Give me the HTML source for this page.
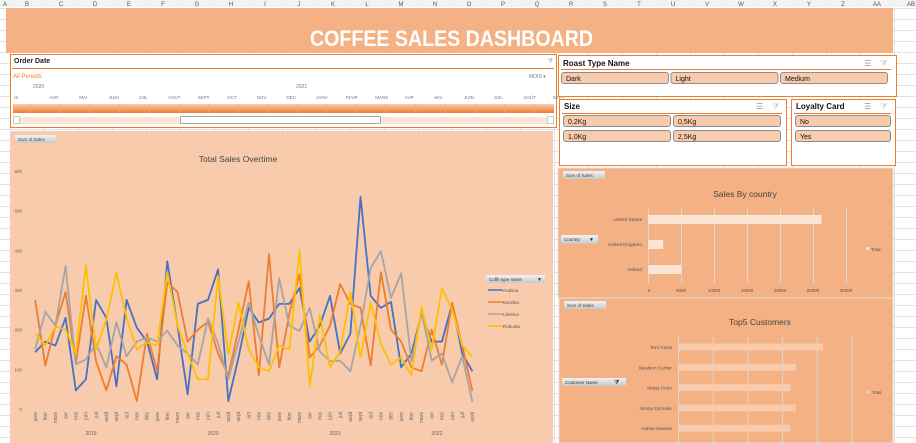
<!DOCTYPE html>
<html><head><meta charset="utf-8"><style>
body{margin:0;width:916px;height:443px;overflow:hidden;background:#fff;font-family:"Liberation Sans",sans-serif}
svg{display:block}
text{font-family:"Liberation Sans",sans-serif}
</style></head><body>
<svg id="s" width="916" height="443" viewBox="0 0 916 443" xmlns="http://www.w3.org/2000/svg">
<defs>
<linearGradient id="tl" x1="0" y1="0" x2="0" y2="1"><stop offset="0" stop-color="#f8cbad"/><stop offset="1" stop-color="#ed7d31"/></linearGradient>
<linearGradient id="btn" x1="0" y1="0" x2="0" y2="1"><stop offset="0" stop-color="#f2f2f2"/><stop offset="1" stop-color="#c8c8c8"/></linearGradient>
</defs>
<g id="grid"></g>
<g id="hdr"></g>
<rect x="6" y="8" width="887" height="45" fill="#f4b183"/>
<text x="310" y="46" textLength="283" lengthAdjust="spacingAndGlyphs" font-size="22" font-weight="bold" fill="#fff" font-family="DejaVu Sans Condensed, Liberation Sans Narrow, Liberation Sans, sans-serif">COFFEE SALES DASHBOARD</text>

<!-- timeline -->
<g>
<rect x="10.5" y="54.5" width="546" height="73" fill="#fff" stroke="#ed7d31"/>
<text x="14" y="63" font-size="7" font-weight="bold" fill="#222">Order Date</text>
<line x1="12" y1="68.5" x2="554" y2="68.5" stroke="#ed7d31"/>
<text x="547" y="63" font-size="7" fill="#bbb">⧩</text>
<text x="13" y="78" font-size="6" fill="#ed7d31">All Periods</text>
<text x="529" y="78" font-size="5" fill="#777">MOIS ▾</text>
<text x="33" y="88" font-size="5" fill="#777">2020</text>
<text x="296" y="88" font-size="5" fill="#777">2021</text>
<g id="months"></g>
<rect x="13" y="104" width="541" height="9" fill="url(#tl)"/>
<g id="mticks"></g>
<rect x="13" y="117" width="541" height="7" fill="#fbe5d6"/>
<rect x="13.5" y="116.5" width="6" height="7" fill="#fff" stroke="#999" stroke-width=".5"/>
<rect x="547.5" y="116.5" width="6" height="7" fill="#fff" stroke="#999" stroke-width=".5"/>
<rect x="180.5" y="116.5" width="200" height="7" fill="#fff" stroke="#aaa"/>
</g>

<!-- slicers -->
<g>
<rect x="558.5" y="55.5" width="338" height="41" fill="#fff" stroke="#ed7d31"/>
<text x="563" y="66" font-size="8" font-weight="bold" fill="#111">Roast Type Name</text>
<text x="864" y="66" font-size="8" fill="#999">☰</text><text x="880" y="66" font-size="8" fill="#ccc">⧩</text>
<line x1="561" y1="69.5" x2="891" y2="69.5" stroke="#ed7d31"/>
</g>
<g>
<rect x="559.5" y="99.5" width="227" height="66" fill="#fff" stroke="#ed7d31"/>
<text x="564" y="109" font-size="8" font-weight="bold" fill="#111">Size</text>
<text x="756" y="109" font-size="8" fill="#999">☰</text><text x="772" y="109" font-size="8" fill="#ccc">⧩</text>
<line x1="562" y1="113.5" x2="782" y2="113.5" stroke="#ed7d31"/>
</g>
<g>
<rect x="791.5" y="99.5" width="104" height="66" fill="#fff" stroke="#ed7d31"/>
<text x="796" y="109" font-size="8" font-weight="bold" fill="#111">Loyalty Card</text>
<text x="864" y="109" font-size="8" fill="#999">☰</text><text x="880" y="109" font-size="8" fill="#ccc">⧩</text>
<line x1="794" y1="113.5" x2="891" y2="113.5" stroke="#ed7d31"/>
</g>
<g id="buttons"></g>

<!-- line chart -->
<g>
<rect x="10" y="131" width="543" height="312" fill="#f8cbad"/>
<rect x="15" y="135" width="41" height="8" fill="url(#btn)"/>
<text x="18" y="141" font-size="4.5" fill="#444">Sum of Sales</text>
<text x="238" y="162" text-anchor="middle" font-size="8.5" fill="#444">Total Sales  Overtime</text>
<g id="lyaxis"></g><g id="lxaxis"></g><g id="lines"></g>
<rect x="486" y="275" width="59" height="8" fill="url(#btn)"/>
<text x="489" y="281" font-size="4.5" fill="#333">Coffe type name</text>
<text x="537" y="281" font-size="5" fill="#333">▼</text>
<g id="llegend"></g>
</g>

<!-- country chart -->
<g>
<rect x="558" y="168" width="335" height="130" fill="#f4b183" stroke="#e0e0e0"/>
<rect x="563" y="171" width="42" height="8" fill="url(#btn)"/>
<text x="566" y="177" font-size="4.5" fill="#444">Sum of Sales</text>
<text x="745" y="197" text-anchor="middle" font-size="8.5" fill="#444">Sales By country</text>
<rect x="561" y="235" width="37" height="9" fill="url(#btn)"/>
<text x="564" y="241" font-size="4.5" fill="#333">Country</text><text x="589" y="241" font-size="5" fill="#333">▼</text>
<g id="cchart"></g>
<rect x="866" y="247" width="3" height="3" fill="#fbe5d6"/><text x="871" y="251" font-size="4.5" fill="#555">Total</text>
</g>

<!-- top5 chart -->
<g>
<rect x="559" y="298" width="334" height="145" fill="#f4b183" stroke="#e0e0e0"/>
<rect x="564" y="301" width="42" height="8" fill="url(#btn)"/>
<text x="567" y="307" font-size="4.5" fill="#444">Sum of Sales</text>
<text x="760" y="325" text-anchor="middle" font-size="8.5" fill="#444">Top5 Customers</text>
<rect x="562" y="378" width="64" height="8" fill="url(#btn)"/>
<text x="565" y="384" font-size="4.5" fill="#333">Customer Name</text><text x="614" y="384" font-size="6" fill="#333">⧩</text>
<g id="tchart"></g>
<rect x="867" y="390" width="3" height="3" fill="#f8cbad"/><text x="872" y="394" font-size="4.5" fill="#555">Total</text>
</g>
</svg>
<script>
const NS="http://www.w3.org/2000/svg";
function mk(p,t,a,txt){const e=document.createElementNS(NS,t);for(const k in a)e.setAttribute(k,a[k]);if(txt!==undefined)e.textContent=txt;p.appendChild(e);return e;}
const $=id=>document.getElementById(id);

// ---- data ----
const months=["janv","févr","mars","avr","mai","juin","juil","août","sept","oct","nov","déc"];
const years=["2019","2020","2021","2022"];
const coffeeTypes=["Arabica","Excelsa","Liberica","Robusta"];
const arabica=[143,170,160,230,47,75,275,230,57,275,205,170, 75,372,210,37,265,275,352,20,130,255,218,228, 265,265,305,170,210,285,140,190,535,285,255,270, 105,140,240,170,170,265,140,95];
const excelsa=[275,110,210,295,115,285,120,47,133,112,20,190, 95,320,295,170,200,220,140,85,200,322,85,390, 105,240,340,130,160,210,315,265,255,110,345,200, 170,105,95,200,112,268,160,45];
const liberica=[150,245,210,360,113,125,165,105,218,133,170,180, 170,198,160,140,112,228,165,75,170,268,185,112, 330,210,197,255,145,120,122,95,210,355,398,280, 342,120,245,122,140,67,133,18];
const robusta=[190,160,208,200,140,362,150,225,343,230,150,168, 160,345,210,140,75,75,335,140,268,150,105,95, 160,150,400,57,237,105,145,295,130,268,165,112, 130,85,258,150,305,250,160,132];
const yTicks=[0,100,200,300,400,500,600];
const countries=["United States","United Kingdom","Ireland"];
const countrySales=[26300,2300,5000];
const countryTicks=[0,5000,10000,15000,20000,25000,30000];
const customers=["Terri Farra","Nealson Cuttler","Marja Urion","Jimmy Dymoke","Adrian Swaine"];
const customerSales=[209,170,162,170,162];
const customerTicks=[0,50,100,150,200,250];
const tlMonths=["IS","AVR","MAI","JUIN","JUIL","AOÛT","SEPT","OCT","NOV","DÉC","JANV","FÉVR","MARS","AVR","MAI","JUIN","JUIL","AOÛT","SEPT"];
const roastOpts=["Dark","Light","Medium"];
const sizeOpts=["0,2Kg","0,5Kg","1,0Kg","2,5Kg"];
const loyaltyOpts=["No","Yes"];

// ---- sheet grid ----
const g=$("grid");
for(let x=10;x<916;x+=34){mk(g,"line",{x1:x+.5,y1:0,x2:x+.5,y2:443,stroke:"#e2e2e2"});}
for(let y=8;y<443;y+=11){mk(g,"line",{x1:0,y1:y+.5,x2:916,y2:y+.5,stroke:"#e2e2e2"});}
mk(g,"rect",{x:0,y:0,width:916,height:7,fill:"#f3f3f3"});
const cols=["A","B","C","D","E","F","G","H","I","J","K","L","M","N","O","P","Q","R","S","T","U","V","W","X","Y","Z","AA","AB","AC"];
const h=$("hdr");
cols.forEach((c,i)=>{const t=mk(h,"text",{x:i===0?3:27+34*(i-1),y:6,"font-size":6,fill:"#555","text-anchor":i===0?"start":"middle"},c);

});

// ---- timeline months ----
const tm=$("months"),tk=$("mticks");
tlMonths.forEach((m,i)=>{const x=14+i*29.6;mk(tm,"text",{x:x+(i===0?0:6),y:99,"font-size":4.5,fill:"#777"},m);
mk(tk,"line",{x1:x+17,y1:104,x2:x+17,y2:113,stroke:"#f4b183","stroke-width":.6});});

// ---- slicer buttons ----
const b=$("buttons");
function btn(x,y,w,label,name){const gg=mk(b,"g",{});


mk(gg,"rect",{x:x+.5,y:y+.5,width:w,height:11,rx:2.5,fill:"#f8cbad",stroke:"#8c8c8c"});
mk(gg,"text",{x:x+5,y:y+9,"font-size":7,fill:"#111"},label);}
roastOpts.forEach((o,i)=>btn(561+i*109.5,72,107,o,"roast-"+o.toLowerCase()+"-button"));
sizeOpts.forEach((o,i)=>btn(563+(i%2)*110,115+Math.floor(i/2)*15,107,o,"size-button"));
loyaltyOpts.forEach((o,i)=>btn(795,115+i*15,95,o,"loyalty-"+o.toLowerCase()+"-button"));

// ---- line chart ----
const X0=30,CW=10.17,Y0=409,YS=(409-171)/600;
const lx=i=>X0+CW*(i+0.5), ly=v=>Y0-v*YS;
const ya=$("lyaxis");
yTicks.forEach(v=>{const t=mk(ya,"text",{x:22,y:ly(v)+2,"font-size":4.5,fill:"#666","text-anchor":"end"},v);

});
const xa=$("lxaxis");
const n=arabica.length;
mk(xa,"line",{x1:X0,y1:Y0+.5,x2:X0+CW*n,y2:Y0+.5,stroke:"#e8d5c8","stroke-width":.6});
for(let i=0;i<=n;i++){mk(xa,"line",{x1:X0+CW*i,y1:Y0,x2:X0+CW*i,y2:(i%12===0||i===n)?437:425,stroke:"#e8d5c8","stroke-width":.6});}
for(let i=0;i<n;i++){const t=mk(xa,"text",{transform:`translate(${lx(i)+1.7},${412}) rotate(-90)`,"font-size":5,fill:"#666","text-anchor":"end"},months[i%12]);

}
years.forEach((yv,k)=>{const s=k*12,e=Math.min(n,s+12);const t=mk(xa,"text",{x:(X0+CW*s+X0+CW*e)/2,y:435,"font-size":5,fill:"#666","text-anchor":"middle"},yv);

});
const series=[arabica,excelsa,liberica,robusta],colors=["#4472c4","#ed7d31","#a5a5a5","#ffc000"];
const L=$("lines");
series.forEach((d,k)=>{const p=mk(L,"polyline",{points:d.map((v,i)=>lx(i).toFixed(1)+","+ly(v).toFixed(1)).join(" "),fill:"none",stroke:colors[k],"stroke-width":1.8,"stroke-linejoin":"round"});

});
const lg=$("llegend");
coffeeTypes.forEach((c,k)=>{const y=290+k*12;const e=mk(lg,"g",{});


mk(e,"line",{x1:488,y1:y,x2:503,y2:y,stroke:colors[k],"stroke-width":1.5});
mk(e,"text",{x:503,y:y+2,"font-size":4.5,fill:"#555"},c);});

// ---- country chart ----
const C0=648,CPX=(846-648)/30000;const cx=v=>C0+v*CPX;
const cc=$("cchart");
countryTicks.forEach(v=>{mk(cc,"line",{x1:cx(v)+.5,y1:208,x2:cx(v)+.5,y2:283,stroke:"#d9d9d9","stroke-width":1});
const t=mk(cc,"text",{x:cx(v)+(v?0:1),y:292,"font-size":4.5,fill:"#555","text-anchor":"middle"},v);

});
countries.forEach((c,i)=>{const y=219+i*25;
const r=mk(cc,"rect",{x:C0,y:y-4,width:cx(countrySales[i])-C0,height:9,fill:"#fbe5d6"});


mk(cc,"text",{x:642,y:y+2,"font-size":4.8,fill:"#555","text-anchor":"end"},c);});

// ---- top5 chart ----
const T0=678,TPX=34.7/50;const tx=v=>T0+v*TPX;
const tc=$("tchart");
customerTicks.forEach(v=>{const l=mk(tc,"line",{x1:tx(v)+.5,y1:337,x2:tx(v)+.5,y2:443,stroke:"#d9d9d9","stroke-width":1});

});
customers.forEach((c,i)=>{const y=347+i*20.3;
const r=mk(tc,"rect",{x:T0,y:y-3.5,width:tx(customerSales[i])-T0,height:7,fill:"#f8cbad"});


mk(tc,"text",{x:672,y:y+2,"font-size":4.8,fill:"#555","text-anchor":"end"},c);});
</script>
</body></html>
